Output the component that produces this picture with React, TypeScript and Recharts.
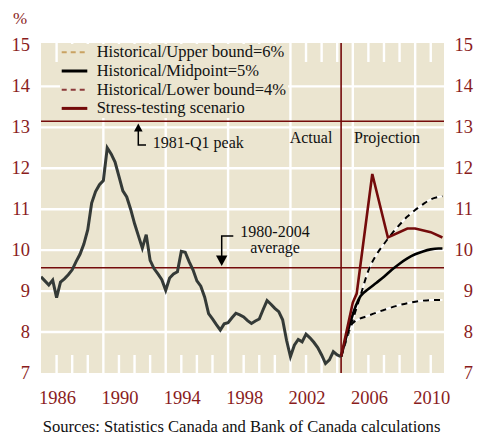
import React from "react";
import { LineChart, Line, XAxis, YAxis, ReferenceLine } from "recharts";

// ---------- data ----------
const historicalStart = 1985; // first quarter 1985Q1, quarterly steps
const historicalRate = [
  9.35, 9.25, 9.15, 9.27, 8.84, 9.22, 9.3, 9.4, 9.52, 9.72, 9.9, 10.15, 10.5,
  11.15, 11.43, 11.6, 11.7, 12.5, 12.35, 12.15, 11.8, 11.45, 11.3, 11.0, 10.65,
  10.35, 10.05, 10.38, 9.75, 9.55, 9.42, 9.28, 9.02, 9.32, 9.42, 9.47, 9.97,
  9.95, 9.72, 9.52, 9.25, 9.12, 8.85, 8.45, 8.32, 8.18, 8.05, 8.2, 8.23, 8.35,
  8.46, 8.42, 8.37, 8.28, 8.21, 8.27, 8.32, 8.55, 8.77, 8.68, 8.58, 8.5, 8.3,
  7.8, 7.4, 7.68, 7.82, 7.76, 7.95, 7.86, 7.75, 7.62, 7.44, 7.23, 7.32, 7.52,
  7.44, 7.4,
];

const upperBound: [number, number][] = [
  [2004.25, 7.4], [2005.5, 8.9], [2006, 9.5], [2006.5, 9.88], [2007, 10.15],
  [2007.5, 10.4], [2008, 10.62], [2008.5, 10.82], [2009, 10.98],
  [2009.5, 11.12], [2010, 11.24], [2010.5, 11.3], [2010.75, 11.32],
];
const midpoint: [number, number][] = [
  [2004.25, 7.4], [2005.5, 8.88], [2006, 9.05], [2006.5, 9.2], [2007, 9.35],
  [2007.5, 9.52], [2008, 9.67], [2008.5, 9.8], [2009, 9.9], [2009.5, 9.97],
  [2010, 10.02], [2010.5, 10.04], [2010.75, 10.04],
];
const lowerBound: [number, number][] = [
  [2004.25, 7.4], [2005, 8.22], [2006, 8.4], [2007, 8.54], [2008, 8.66],
  [2009, 8.74], [2010, 8.78], [2010.75, 8.78],
];
const stressScenario: [number, number][] = [
  [2004.25, 7.4], [2005, 8.72], [2005.25, 8.94], [2006.25, 11.86],
  [2007.25, 10.31], [2008.5, 10.53], [2009, 10.53], [2010, 10.44],
  [2010.75, 10.31],
];

const xLabelYears = [1986, 1990, 1994, 1998, 2002, 2006, 2010];
const yTicks = [7, 8, 9, 10, 11, 12, 13, 14, 15];
const gridYears = [1989, 1993, 1997, 2001, 2005, 2009];
const gridLevels = [8, 9, 10, 11, 12, 13, 14];
const minorYears = [
  1986, 1987, 1988, 1990, 1991, 1992, 1994, 1995, 1996, 1998, 1999, 2000,
  2002, 2003, 2004, 2006, 2007, 2008, 2010,
];
const peakLevel = 13.15;
const averageLevel = 9.57;
const projectionStart = 2004.25;

const legendItems = [
  { label: "Historical/Upper bound=6%", color: "#c9a262", dash: "5 4", width: 2 },
  { label: "Historical/Midpoint=5%", color: "#000000", dash: "", width: 3 },
  { label: "Historical/Lower bound=4%", color: "#8c3a3a", dash: "5 4", width: 2 },
  { label: "Stress-testing scenario", color: "#740b0b", dash: "", width: 3 },
];

// ---------- derived tables ----------
const toRows = (pts: [number, number][]) => pts.map(([t, v]) => ({ t, v }));
const historicalRows = historicalRate.map((v, i) => ({
  t: historicalStart + i / 4,
  v,
}));

// ---------- layout (same as chart margins/axes) ----------
const W = 479;
const H = 435;
const X_DOMAIN: [number, number] = [1985, 2010.85];
const Y_DOMAIN: [number, number] = [7, 15.06];
const LEFT_W = 41;
const RIGHT_W = 35;
const TOP = 43;
const X_AXIS_H = 62;
const plotL = LEFT_W;
const plotR = W - RIGHT_W;
const plotT = TOP;
const plotB = H - X_AXIS_H;
const sx = (t: number) => plotL + ((t - X_DOMAIN[0]) / (X_DOMAIN[1] - X_DOMAIN[0])) * (plotR - plotL);
const sy = (v: number) => plotB - ((v - Y_DOMAIN[0]) / (Y_DOMAIN[1] - Y_DOMAIN[0])) * (plotB - plotT);

// ---------- style ----------
const serif = "'Liberation Serif', 'Times New Roman', serif";
const tickRed = "#8a1c1c";
const lineRed = "#740b0b";
const beige = "#ebe5d0";

const LeftTick = (props: any) => (
  <text x={30} y={props.y} dy={6} textAnchor="end" fill={tickRed} fontSize={18.5} fontFamily={serif}>
    {props.payload.value}
  </text>
);
const RightTick = (props: any) => (
  <text x={473} y={props.y} dy={6} textAnchor="end" fill={tickRed} fontSize={18.5} fontFamily={serif}>
    {props.payload.value}
  </text>
);
const BottomTick = (props: any) => (
  <text x={props.x + 1} y={404} textAnchor="middle" fill={tickRed} fontSize={18.5} fontFamily={serif}>
    {props.payload.value}
  </text>
);

export default function App() {
  return (
    <div style={{ position: "absolute", left: 0, top: 0, width: W, height: H }}>
      {/* plot background and white grid, behind the chart */}
      <svg width={W} height={H} style={{ position: "absolute", left: 0, top: 0 }}>
        <rect x={plotL} y={plotT} width={plotR - plotL} height={plotB - plotT} fill={beige} />
        {gridLevels.map((lv) => (
          <line key={"gy" + lv} x1={plotL} x2={plotR} y1={sy(lv)} y2={sy(lv)} stroke="#ffffff" strokeWidth={2.4} />
        ))}
        {gridYears.map((yr) => (
          <line key={"gx" + yr} x1={sx(yr)} x2={sx(yr)} y1={plotT} y2={plotB} stroke="#ffffff" strokeWidth={2.4} />
        ))}
        {minorYears.map((yr) => (
          <g key={"m" + yr}>
            <line x1={sx(yr)} x2={sx(yr)} y1={plotT} y2={plotT + 19} stroke="#ffffff" strokeWidth={2.4} />
            <line x1={sx(yr)} x2={sx(yr)} y1={plotB - 18} y2={plotB} stroke="#ffffff" strokeWidth={2.4} />
          </g>
        ))}
      </svg>

      <div style={{ position: "absolute", left: 0, top: 0 }}>
        <LineChart width={W} height={H} margin={{ top: TOP, right: 0, bottom: 0, left: 0 }}>
          <XAxis
            dataKey="t"
            type="number"
            domain={X_DOMAIN}
            ticks={xLabelYears}
            allowDataOverflow
            axisLine={false}
            tickLine={false}
            height={X_AXIS_H}
            tick={BottomTick}
            interval={0}
          />
          <YAxis
            yAxisId="left"
            domain={Y_DOMAIN}
            ticks={yTicks}
            allowDataOverflow
            axisLine={false}
            tickLine={false}
            width={LEFT_W}
            tick={LeftTick}
            interval={0}
          />
          <YAxis
            yAxisId="right"
            orientation="right"
            domain={Y_DOMAIN}
            ticks={yTicks}
            allowDataOverflow
            axisLine={false}
            tickLine={false}
            width={RIGHT_W}
            tick={RightTick}
            interval={0}
          />
          <ReferenceLine yAxisId="left" y={peakLevel} stroke={lineRed} strokeWidth={1.6} />
          <ReferenceLine yAxisId="left" y={averageLevel} stroke={lineRed} strokeWidth={1.6} />
          <ReferenceLine yAxisId="left" x={projectionStart} stroke={lineRed} strokeWidth={1.6} />

          <Line yAxisId="left" data={historicalRows} dataKey="v" type="linear" stroke="#343a37" strokeWidth={3} dot={false} isAnimationActive={false} />
          <Line yAxisId="left" data={toRows(upperBound)} dataKey="v" type="monotone" stroke="#ffffff" strokeWidth={2} dot={false} isAnimationActive={false} />
          <Line yAxisId="left" data={toRows(upperBound)} dataKey="v" type="monotone" stroke="#000000" strokeWidth={2} strokeDasharray="6 5" dot={false} isAnimationActive={false} />
          <Line yAxisId="left" data={toRows(lowerBound)} dataKey="v" type="monotone" stroke="#ffffff" strokeWidth={2} dot={false} isAnimationActive={false} />
          <Line yAxisId="left" data={toRows(lowerBound)} dataKey="v" type="monotone" stroke="#000000" strokeWidth={2} strokeDasharray="6 5" dot={false} isAnimationActive={false} />
          <Line yAxisId="left" data={toRows(midpoint)} dataKey="v" type="monotone" stroke="#000000" strokeWidth={2.6} dot={false} isAnimationActive={false} />
          <Line yAxisId="left" data={toRows(stressScenario)} dataKey="v" type="linear" stroke={lineRed} strokeWidth={2.6} dot={false} isAnimationActive={false} />
        </LineChart>
      </div>

      <svg width={W} height={H} style={{ position: "absolute", left: 0, top: 0, pointerEvents: "none" }}>
        <text x={13} y={24} fill={tickRed} fontSize={17} fontFamily={serif}>
          %
        </text>
        <rect x={60} y={44} width={228} height={74} fill={beige} />
        {legendItems.map((it, i) => {
          const base = 57.3 + i * 18.7;
          return (
            <g key={it.label}>
              <line
                x1={61.7}
                x2={87.3}
                y1={base - 5}
                y2={base - 5}
                stroke={it.color}
                strokeWidth={it.width}
                strokeDasharray={it.dash || undefined}
              />
              <text x={96.7} y={base} fontSize={16.5} fontFamily={serif} fill="#111">
                {it.label}
              </text>
            </g>
          );
        })}
        <polygon points="138.3,123.5 134,131.5 142.6,131.5" fill="#000" />
        <polyline points="138.3,130 138.3,145 146,145" fill="none" stroke="#000" strokeWidth={1.5} />
        <text x={152.7} y={148.3} fontSize={16} fontFamily={serif} fill="#111">
          1981-Q1 peak
        </text>
        <polyline points="233.3,236 221.7,236 221.7,257" fill="none" stroke="#000" strokeWidth={1.5} />
        <polygon points="221.7,266 216,255.5 227.4,255.5" fill="#000" />
        <text x={275} y={236.5} textAnchor="middle" fontSize={16} fontFamily={serif} fill="#111">
          1980-2004
        </text>
        <text x={275} y={252.5} textAnchor="middle" fontSize={16} fontFamily={serif} fill="#111">
          average
        </text>
        <text x={311} y={143.3} textAnchor="middle" fontSize={16} fontFamily={serif} fill="#111">
          Actual
        </text>
        <text x={387} y={143.3} textAnchor="middle" fontSize={16} fontFamily={serif} fill="#111">
          Projection
        </text>
        <text x={42.7} y={431.5} fontSize={16.6} fontFamily={serif} fill="#111">
          Sources: Statistics Canada and Bank of Canada calculations
        </text>
      </svg>
    </div>
  );
}
